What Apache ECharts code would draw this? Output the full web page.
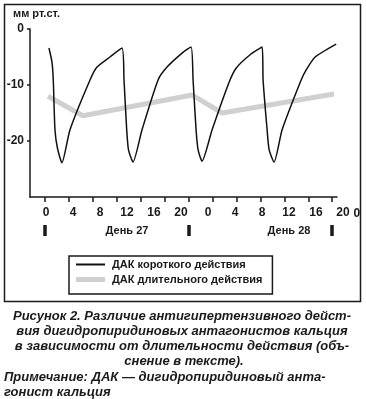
<!DOCTYPE html>
<html><head><meta charset="utf-8">
<script src="https://cdn.jsdelivr.net/npm/echarts@6/dist/echarts.min.js"></script>
<style>html,body{margin:0;padding:0;background:#fff}#c{width:366px;height:399px}</style>
</head><body><div id="c"></div>
<script>
// hours from start of day 27, blood pressure change (mm Hg)
const shortActing = [
  [0.67,-3.4],[1.17,-5.9],[1.39,-9.1],[1.67,-18.0],[2.09,-21.3],[2.84,-23.9],
  [4.18,-18.0],[7.53,-9.1],[8.70,-6.8],[10.87,-5.0],[12.88,-3.4],
  [13.21,-9.1],[13.66,-18.0],[13.96,-21.6],[14.72,-23.75],
  [16.22,-18.0],[18.9,-9.1],[20.4,-6.8],[22.91,-4.3],[24.41,-3.2],
  [24.75,-9.1],[25.25,-18.0],[25.59,-21.6],[26.25,-23.6],
  [27.93,-18.0],[30.77,-9.5],[31.94,-7.0],[34.28,-4.6],[36.29,-3.2],
  [36.45,-9.1],[37.12,-18.0],[37.46,-21.6],[38.29,-23.75],
  [39.63,-18.0],[42.81,-9.1],[43.65,-7.3],[45.15,-5.0],[48.66,-2.7]
];
const longActing = [[0.5,-12.0],[6.35,-15.5],[24.6,-11.8],[29.6,-15.0],[48.3,-11.6]];
const seriesNames = ['ДАК короткого действия','ДАК длительного действия'];
const hourTicks = [0,4,8,12,16,20,24,28,32,36,40,44,48];
const tickLabels = ['0','4','8','12','16','20','0','4','8','12','16','20','0'];
const dayBoundaries = [0,24,48];
const dayLabelHours = [12,36];
const dayLabels = ['День 27','День 28'];
const yTicks = [0,-10,-20];
const yTickLabels = ['0','-10','-20'];
const yAxisTitle = 'мм рт.ст.';
const caption = [
  'Рисунок 2. Различие антигипертензивного дейст-',
  'вия дигидропиридиновых антагонистов кальция',
  'в зависимости от длительности действия (объ-',
  'снение в тексте).'
];
const note = ['Примечание: ДАК — дигидропиридиновый анта-','гонист кальция'];

const F = 'Arial, "Liberation Sans", Helvetica, sans-serif';
const chart = echarts.init(document.getElementById('c'), null, {renderer:'canvas'});
const capFont = 'italic bold 13px ' + F;
const capY = [316,331,346,361];
const graphic = [
  {type:'rect', shape:{x:4.5,y:4.5,width:356,height:297}, style:{fill:'none',stroke:'#1a1a1a',lineWidth:1.5}, silent:true, z:-1},
  {type:'text', left:13, top:8, style:{text:yAxisTitle, font:'bold 11px '+F, fill:'#1a1a1a'}}
];
caption.forEach((t,i)=>graphic.push({type:'text', x: i===3?184:182, y:capY[i], style:{text:t, font:capFont, fill:'#1a1a1a', align:'center', verticalAlign:'middle'}}));
note.forEach((t,i)=>graphic.push({type:'text', x:4, y:377+i*15, style:{text:t, font:capFont, fill:'#1a1a1a', align:'left', verticalAlign:'middle'}}));

chart.setOption({
  animation:false,
  backgroundColor:'#fff',
  textStyle:{fontFamily:F},
  grid:[
    {left:30, right:29, top:29, bottom:202},
    {left:46, right:23, top:29, bottom:202}
  ],
  xAxis:[
    {type:'value', gridIndex:0, position:'bottom', min:-2.5, max:48.8, splitLine:{show:false},
     axisLine:{onZero:false, lineStyle:{color:'#1a1a1a',width:1.5}},
     axisTick:{customValues:hourTicks, length:5, lineStyle:{color:'#1a1a1a',width:1.5}},
     axisLabel:{show:false}},
    {type:'value', gridIndex:1, position:'bottom', min:0, max:44, interval:4, splitLine:{show:false},
     axisLine:{show:false, onZero:false}, axisTick:{show:false},
     axisLabel:{margin:10, fontSize:12, fontWeight:'bold', color:'#1a1a1a', fontFamily:F,
       formatter:v=>tickLabels[hourTicks.indexOf(v)]},
     name:tickLabels[tickLabels.length-1], nameLocation:'end', nameGap:6,
     nameTextStyle:{fontSize:12, fontWeight:'bold', color:'#1a1a1a', fontFamily:F, verticalAlign:'top', padding:[11,0,0,0]}},
    {type:'value', gridIndex:1, position:'bottom', min:0, max:44, splitLine:{show:false},
     axisLine:{show:false, onZero:false}, axisTick:{show:false},
     axisLabel:{customValues:dayLabelHours, margin:28, fontSize:11, fontWeight:'bold', color:'#1a1a1a', fontFamily:F,
       formatter:v=>dayLabels[dayLabelHours.indexOf(v)]}},
    {type:'value', gridIndex:0, position:'bottom', min:-2.5, max:48.8, offset:28, splitLine:{show:false},
     axisLine:{show:false, onZero:false},
     axisTick:{customValues:dayBoundaries, length:11, lineStyle:{color:'#1a1a1a',width:3.5}},
     axisLabel:{show:false}}
  ],
  yAxis:[
    {type:'value', gridIndex:0, min:-30, max:0, interval:10, splitLine:{show:false},
     axisLine:{onZero:false, lineStyle:{color:'#1a1a1a',width:1.5}},
     axisTick:{customValues:yTicks, length:3, lineStyle:{color:'#1a1a1a',width:1.5}},
     axisLabel:{customValues:yTicks, margin:6, fontSize:12, fontWeight:'bold', color:'#1a1a1a', fontFamily:F,
       formatter:v=>yTickLabels[yTicks.indexOf(v)]}},
    {type:'value', gridIndex:1, min:-30, max:0, show:false}
  ],
  legend:{
    orient:'vertical', left:69, top:256,
    data:[{name:seriesNames[0], icon:'path://M0,0h29v2h-29z'},{name:seriesNames[1], icon:'path://M0,0h29v5h-29z'}],
    borderColor:'#1a1a1a', borderWidth:1.5, padding:[3,10,9,7], itemGap:4,
    itemWidth:29, itemHeight:14,
    textStyle:{fontSize:11, fontWeight:'bold', color:'#1a1a1a', fontFamily:F, padding:[0,0,0,2]}
  },
  series:[
    {name:seriesNames[0], type:'line', xAxisIndex:0, yAxisIndex:0, data:shortActing, symbol:'none', smooth:0.2,
     lineStyle:{color:'#111', width:1.5}, itemStyle:{color:'#111'}, z:3},
    {name:seriesNames[1], type:'line', xAxisIndex:0, yAxisIndex:0, data:longActing, symbol:'none',
     lineStyle:{color:'#d0d0d0', width:5}, itemStyle:{color:'#d0d0d0'}, z:2}
  ],
  graphic:graphic
});
</script></body></html>
